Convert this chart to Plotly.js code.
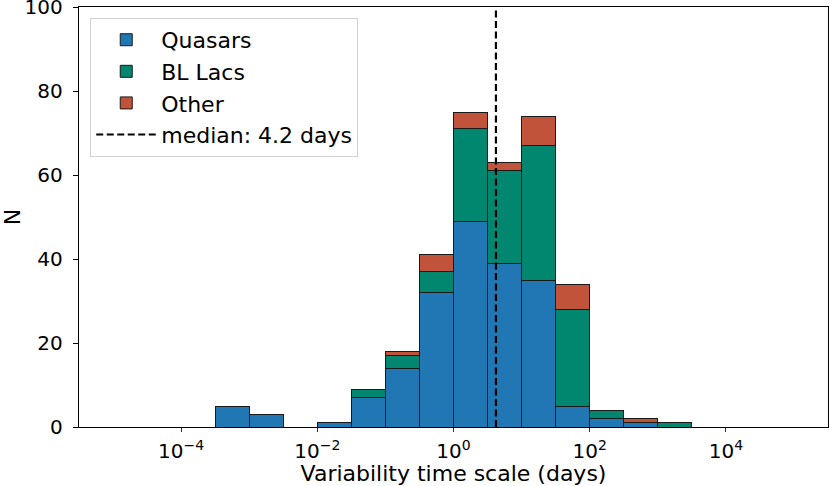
<!DOCTYPE html>
<html>
<head>
<meta charset="utf-8">
<script src="https://cdn.plot.ly/plotly-3.0.1.min.js"></script>
<style>html,body{margin:0;padding:0;background:#fff;}#chart{width:830px;height:486px;}</style>
</head>
<body>
<div id="chart"></div>
<script>
// Bin lower edges in log10(days); each bin spans half a decade
var binLogLeft = [-3.5, -3.0, -2.5, -2.0, -1.5, -1.0, -0.5, 0.0, 0.5, 1.0, 1.5, 2.0, 2.5, 3.0];
var binLogWidth = 0.5;
// Counts per bin (stacked)
var quasars = [5, 3, 0, 1, 7, 14, 32, 49, 39, 35, 5, 2, 1, 0];
var blLacs  = [0, 0, 0, 0, 2, 3, 5, 22, 22, 32, 23, 2, 0, 1];
var other   = [0, 0, 0, 0, 0, 1, 4, 4, 2, 7, 6, 0, 1, 0];
var medianDays = 4.2;
var xTickExp = [-4, -2, 0, 2, 4];
var yTicks = [0, 20, 40, 60, 80, 100];

var centers = binLogLeft.map(function(e){ return e + binLogWidth/2; });
var font = 'DejaVu Sans, sans-serif';
var fs = 22, tfs = 20;
var outline = {color: '#1a1a1a', width: 1};

function barTrace(name, y, color) {
  return {type: 'bar', name: name, legendgroup: name, x: centers, y: y, width: binLogWidth,
          marker: {color: color, line: outline}, hoverinfo: 'x+y'};
}

var traces = [
  barTrace('Quasars', quasars, '#2077b4'),
  barTrace('BL Lacs', blLacs, '#018670'),
  barTrace('Other', other, '#c0533a'),
  {type: 'scatter', mode: 'lines', name: 'median: ' + medianDays + ' days', legendgroup: 'median',
   x: [Math.log10(medianDays), Math.log10(medianDays)], y: [0, 100],
   line: {color: 'black', width: 2.2, dash: '7px,3.5px'}}
];

var layout = {
  width: 830, height: 486,
  margin: {l: 79, r: 2, t: 7, b: 59},
  barmode: 'stack', bargap: 0,
  paper_bgcolor: 'white', plot_bgcolor: 'white',
  font: {family: font, size: fs, color: 'black'},
  showlegend: true,
  legend: {x: 0.015, y: 0.974, xanchor: 'left', yanchor: 'top',
           bgcolor: 'rgba(255,255,255,0.8)', bordercolor: '#d0d0d0', borderwidth: 1,
           font: {family: font, size: fs}, itemwidth: 60, tracegroupgap: 3,
           traceorder: 'normal'},
  xaxis: {range: [-5.5, 5.5], tickmode: 'array', tickvals: xTickExp,
          ticktext: xTickExp.map(function(e){ return '10<sup>' + (e < 0 ? '\u2212' + (-e) : e) + '</sup>'; }),
          ticks: 'outside', ticklen: 4, tickcolor: '#333', showgrid: false, zeroline: false,
          showline: true, linecolor: 'black', linewidth: 1.3, mirror: true,
          tickfont: {family: font, size: tfs}, ticklabelstandoff: 2,
          title: {text: 'Variability time scale (days)', font: {family: font, size: fs}, standoff: 0}},
  yaxis: {range: [0, 100.001], tickmode: 'array', tickvals: yTicks, ticklabeloverflow: 'allow',
          ticks: 'outside', ticklen: 5, tickcolor: 'black', showgrid: false, zeroline: false,
          showline: true, linecolor: 'black', linewidth: 1.3, mirror: true,
          tickfont: {family: font, size: tfs}, ticklabelstandoff: 6, ticklabelshift: -2.5,
          title: {text: 'N', font: {family: font, size: fs}, standoff: 10}}
};

Plotly.newPlot('chart', traces, layout, {displayModeBar: false, staticPlot: true});
</script>
</body>
</html>
